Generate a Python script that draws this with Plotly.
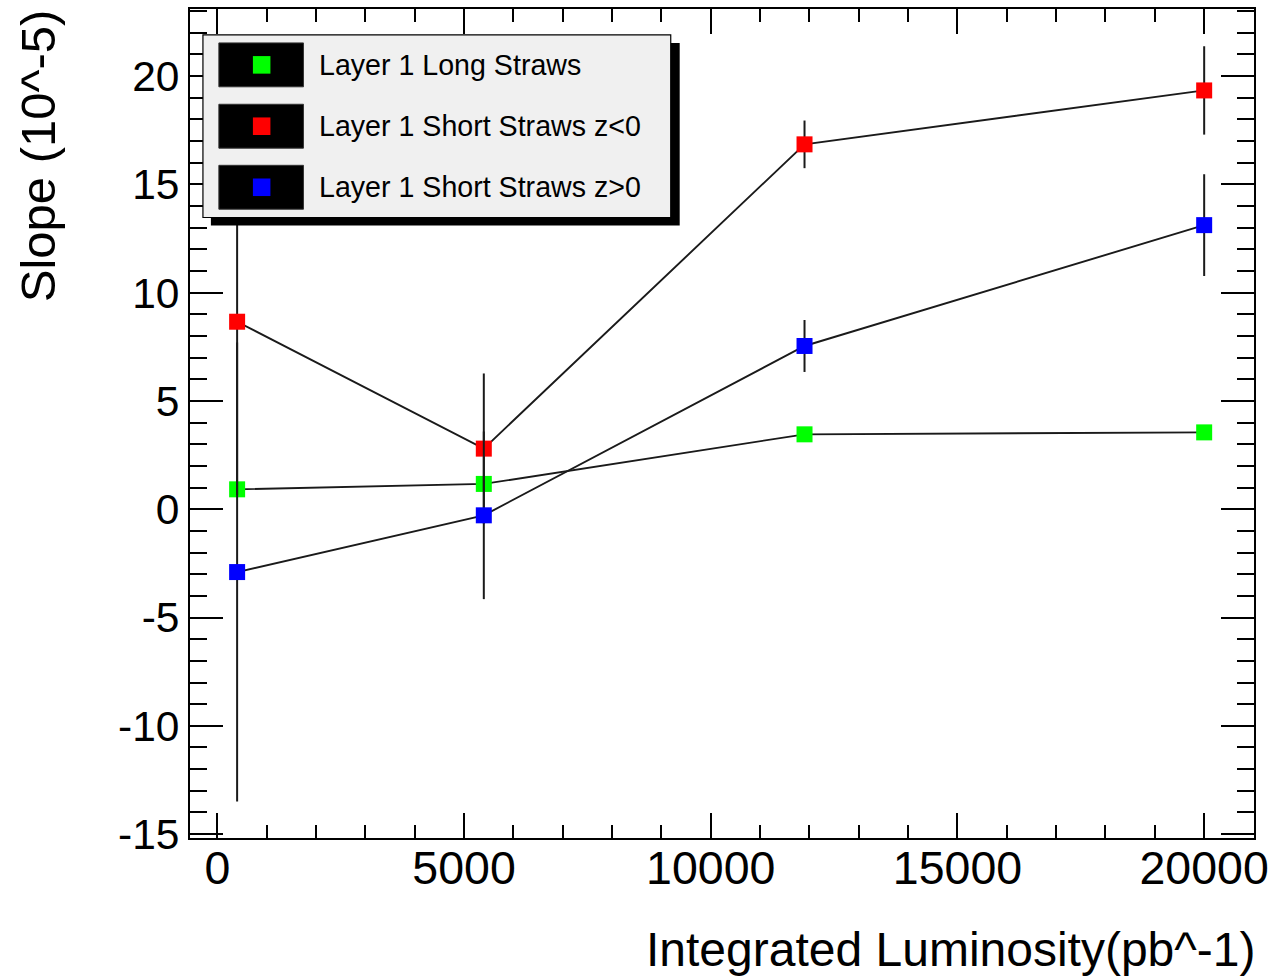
import plotly.graph_objects as go

# ---------------- data ----------------
luminosity = [400, 5400, 11900, 20000]

long_straws = [0.92, 1.17, 3.46, 3.55]
long_straws_err = [0.3, 0.3, 0.3, 0.3]

short_zneg = [8.66, 2.80, 16.85, 19.34]
short_zneg_err = [8.0, 3.47, 1.1, 2.04]

short_zpos = [-2.90, -0.28, 7.54, 13.12]
short_zpos_err = [10.6, 3.87, 1.2, 2.35]

series_names = ["Layer 1 Long Straws", "Layer 1 Short Straws z<0", "Layer 1 Short Straws z>0"]
series_colors = ["#00ff00", "#ff0000", "#0000ff"]

x_ticks = [0, 5000, 10000, 15000, 20000]
y_ticks = [-15, -10, -5, 0, 5, 10, 15, 20]

# ---------------- layout geometry (pixels) ----------------
W, H = 1276, 977
L, R, T, B = 190, 17, 7, 139
PW = W - L - R
PH = H - T - B
FONT = "Liberation Sans, Arial, sans-serif"


def px(xp):
    return (xp - L) / PW


def py(yp):
    return (H - B - yp) / PH


fig = go.Figure()

for name, ys, errs, col in zip(series_names,
                               [long_straws, short_zneg, short_zpos],
                               [long_straws_err, short_zneg_err, short_zpos_err],
                               series_colors):
    fig.add_trace(go.Scatter(
        x=luminosity, y=ys, name=name, mode="lines+markers",
        line=dict(color="#1a1a1a", width=1.9),
        marker=dict(symbol="square", size=16, color=col, line=dict(width=0)),
        error_y=dict(type="data", array=errs, visible=True, color="#1a1a1a",
                     thickness=2, width=0),
        showlegend=False,
    ))

# ---------------- custom ROOT-like legend ----------------
shapes = []
annotations = []
box_x0, box_x1, box_y0, box_y1 = 203, 673, 33, 216
shadow = 8
shapes.append(dict(type="rect", xref="paper", yref="paper",
                   x0=px(box_x0 + shadow), x1=px(box_x1 + shadow + 1),
                   y0=py(box_y1 + shadow), y1=py(box_y0 + shadow),
                   fillcolor="black", line=dict(width=0), layer="above"))
shapes.append(dict(type="rect", xref="paper", yref="paper",
                   x0=px(box_x0), x1=px(box_x1), y0=py(box_y1), y1=py(box_y0),
                   fillcolor="#f0f0f0", line=dict(color="black", width=1.2),
                   layer="above"))
row_centers = [63, 124.5, 185.7]
for name, col, yc in zip(series_names, series_colors, row_centers):
    shapes.append(dict(type="rect", xref="paper", yref="paper",
                       x0=px(219), x1=px(304), y0=py(yc + 22), y1=py(yc - 22),
                       fillcolor="black", line=dict(color="#333", width=1),
                       layer="above"))
    shapes.append(dict(type="rect", xref="paper", yref="paper",
                       x0=px(262 - 8.8), x1=px(262 + 8.8),
                       y0=py(yc + 8.8), y1=py(yc - 8.8),
                       fillcolor=col, line=dict(width=0), layer="above"))
    annotations.append(dict(text=name, xref="paper", yref="paper",
                            x=px(318), y=py(yc), xanchor="left", yanchor="middle",
                            showarrow=False,
                            font=dict(family=FONT, size=28.6, color="black")))

# axis titles
annotations.append(dict(text="Integrated Luminosity(pb^-1)", xref="paper", yref="paper",
                        x=px(1263), y=py(950), xanchor="right", yanchor="middle",
                        showarrow=False, font=dict(family=FONT, size=48, color="black")))
annotations.append(dict(text="Slope (10^-5)", xref="paper", yref="paper",
                        x=px(37), y=py(5), xanchor="center", yanchor="top",
                        textangle=-90, showarrow=False,
                        font=dict(family=FONT, size=49, color="black")))

fig.update_layout(
    width=W, height=H,
    margin=dict(l=L, r=R, t=T, b=B, pad=0),
    paper_bgcolor="white", plot_bgcolor="white",
    shapes=shapes, annotations=annotations,
    font=dict(family=FONT, color="black"),
)

fig.update_xaxes(
    range=[-555, 21010], tickvals=x_ticks, ticktext=[str(v) for v in x_ticks],
    ticks="inside", ticklen=25, tickwidth=1.5, tickcolor="black",
    showline=True, linewidth=2, linecolor="black", mirror="allticks",
    showgrid=False, zeroline=False, ticklabelstandoff=-12,
    tickfont=dict(family=FONT, size=46.5, color="black"),
    minor=dict(dtick=1000, tick0=0, ticks="inside", ticklen=13, tickwidth=1.5,
               tickcolor="black", showgrid=False),
)
fig.update_yaxes(
    range=[-15.18, 23.1], tickvals=y_ticks, ticktext=[str(v) for v in y_ticks],
    ticks="inside", ticklen=33, tickwidth=1.5, tickcolor="black",
    showline=True, linewidth=2, linecolor="black", mirror="allticks",
    showgrid=False, zeroline=False,
    tickfont=dict(family=FONT, size=42.5, color="black"),
    minor=dict(dtick=1, tick0=0, ticks="inside", ticklen=17, tickwidth=1.5,
               tickcolor="black", showgrid=False),
)

fig.write_html("out.html")
